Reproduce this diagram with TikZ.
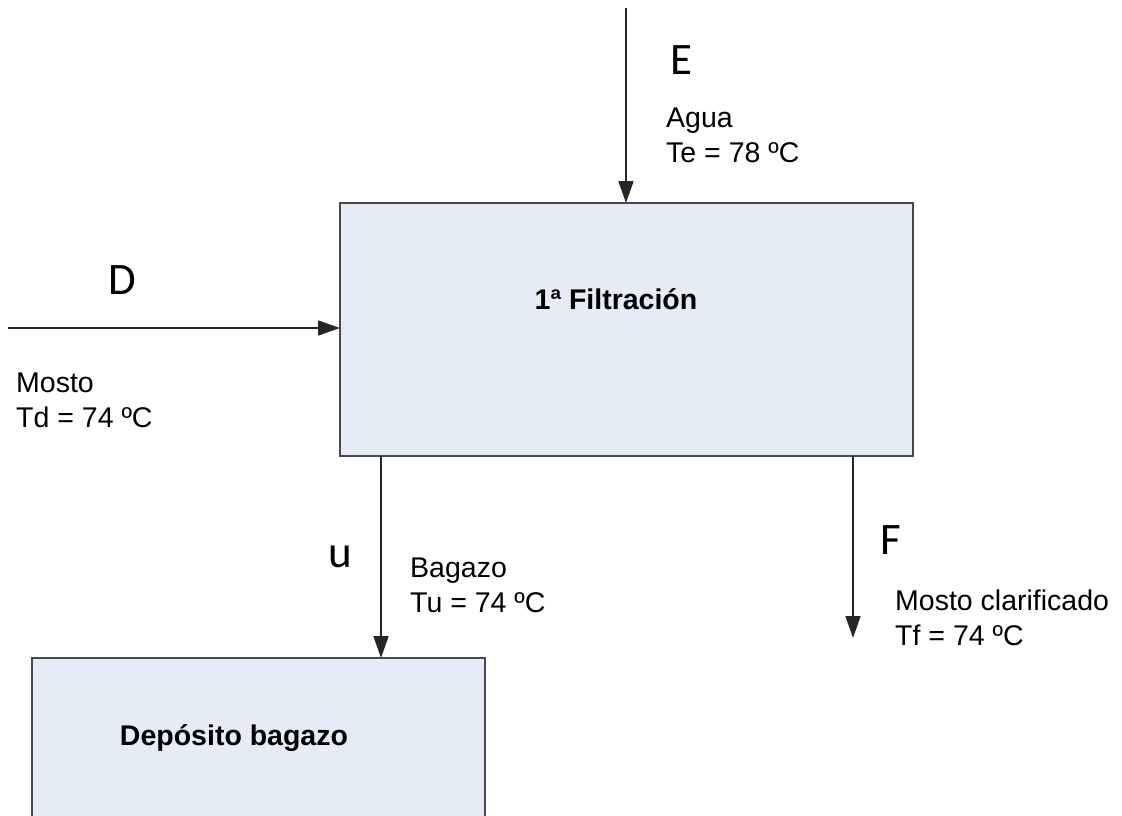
\documentclass[tikz,border=0pt]{standalone}
\usepackage{fontspec}
\setmainfont{Liberation Sans}
\newfontfamily\lettersans{Carlito}
\usetikzlibrary{arrows.meta}
\definecolor{boxfill}{HTML}{E5ECF6}
\definecolor{boxline}{HTML}{4A4A4A}
\begin{document}
\begin{tikzpicture}[x=1pt,y=-1pt,
  unitbox/.style={draw=boxline,line width=2.6pt,fill=boxfill},
  flow/.style={draw=black!85,line width=1.8pt,-{Triangle[length=22pt,width=15pt]}},
  streamname/.style={font=\lettersans\fontsize{45}{45}\selectfont,inner sep=0pt},
  streaminfo/.style={font=\fontsize{28.5}{35}\selectfont,align=left,anchor=north west,inner sep=0pt},
  unitname/.style={font=\bfseries\fontsize{28.5}{34}\selectfont,inner sep=0pt}]
\useasboundingbox (0,0) rectangle (1122,816);

% process units
\draw[unitbox] (340,203) rectangle (913,456);
\node[unitname] (filt) at (616,299) {1ª Filtración};
\draw[unitbox] (32,658) rectangle (485,830);
\node[unitname] (dep) at (234,738) {Depósito bagazo};

% stream end points
\coordinate (eIn) at (626,8);
\coordinate (eBox) at (626,203);
\coordinate (dIn) at (8,328);
\coordinate (dBox) at (340,328);
\coordinate (uOut) at (381,456);
\coordinate (uDep) at (381,658);
\coordinate (fOut) at (853,456);
\coordinate (fEnd) at (853,638);

\draw[flow] (eIn) -- (eBox);
\draw[flow] (dIn) -- (dBox);
\draw[flow] (uOut) -- (uDep);
\draw[flow] (fOut) -- (fEnd);

% stream labels
\node[streamname] (E) at (681,60) {E};
\node[streaminfo] (Einfo) at (666,108) {Agua\\Te = 78 ºC};
\node[streamname] (D) at (122,280) {D};
\node[streaminfo] (Dinfo) at (16,373) {Mosto\\Td = 74 ºC};
\node[streamname] (U) at (340,557) {u};
\node[streaminfo] (Uinfo) at (410,558) {Bagazo\\Tu = 74 ºC};
\node[streamname] (F) at (891,540) {F};
\node[streaminfo] (Finfo) at (895,590) {Mosto clarificado\\Tf = 74 ºC};
\end{tikzpicture}
\end{document}
